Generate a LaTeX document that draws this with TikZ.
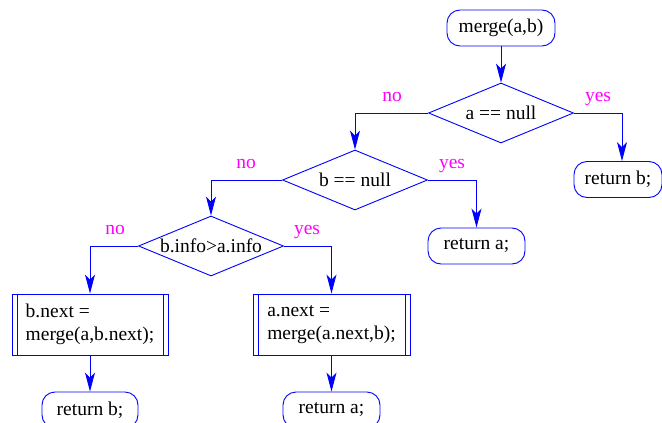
\documentclass[tikz,border=0pt]{standalone}
\usepackage{fontspec}
\setmainfont{Liberation Serif}
\usetikzlibrary{shapes.geometric,arrows.meta,calc}
\definecolor{fblue}{RGB}{0,0,255}
\definecolor{fmag}{RGB}{255,0,255}
\begin{document}
\begin{tikzpicture}[x=1pt,y=-1pt,
  every node/.style={font=\fontsize{19.5}{23}\selectfont},
  rbox/.style={draw=fblue,line width=0.9pt,rounded corners=13pt,minimum height=36pt,inner sep=0pt},
  dia/.style={draw=fblue,line width=0.9pt,shape=diamond,aspect=2.42,inner sep=-1pt,minimum width=145pt,minimum height=60pt},
  proc/.style={draw=fblue,line width=0.9pt,minimum height=61pt,inner sep=0pt,align=left},
  conn/.style={draw=fblue,line width=0.9pt,-{Stealth[length=19pt,width=10pt,inset=5pt]}},
  lab/.style={text=fmag,anchor=base}]
\useasboundingbox (0,0) rectangle (662,423);
\clip (0,0) rectangle (662,423);
\node[rbox,minimum width=108pt] (m) at (501,28) {merge(a,b)};
\node[dia] (d1) at (501,113) {a == null};
\node[dia] (d2) at (355,180) {b == null};
\node[dia] (d3) at (211,246) {b.info>a.info};
\node[rbox,minimum width=88pt] (r1) at (618,179.5) {return b;};
\node[rbox,minimum width=97pt] (r2) at (476.5,246) {return a;};
\node[proc,minimum width=156pt] (p1) at (90,324.5) {b.next =\\merge(a,b.next);};
\node[proc,minimum width=157pt] (p2) at (331.5,324.5) {a.next =\\merge(a.next,b);};
\node[rbox,minimum width=96pt] (r3) at (90,410) {return b;};
\node[rbox,minimum width=97pt] (r4) at (331.5,410) {return a;};
% double vertical lines of process boxes
\draw[fblue,line width=0.9pt] ($(p1.north west)+(5.5,0)$) -- ($(p1.south west)+(5.5,0)$);
\draw[fblue,line width=0.9pt] ($(p1.north east)+(-5.5,0)$) -- ($(p1.south east)+(-5.5,0)$);
\draw[fblue,line width=0.9pt] ($(p2.north west)+(5.5,0)$) -- ($(p2.south west)+(5.5,0)$);
\draw[fblue,line width=0.9pt] ($(p2.north east)+(-5.5,0)$) -- ($(p2.south east)+(-5.5,0)$);
% connectors
\draw[conn] (m.south) -- (d1.north);
\draw[conn] (d1.east) -| ($(r1.north)+(4,0)$);
\draw[conn] (d1.west) -| (d2.north);
\draw[conn] (d2.east) -| (r2.north);
\draw[conn] (d2.west) -| (d3.north);
\draw[conn] (d3.west) -| (p1.north);
\draw[conn] (d3.east) -| (p2.north);
\draw[conn] (p1.south) -- (r3.north);
\draw[conn] (p2.south) -- (r4.north);
% labels
\node[lab] (l1) at (392,101) {no};
\node[lab] (l2) at (598,101) {yes};
\node[lab] (l3) at (246,168) {no};
\node[lab] (l4) at (452,168) {yes};
\node[lab] (l5) at (115,234) {no};
\node[lab] (l6) at (307,234) {yes};
\end{tikzpicture}
\end{document}
